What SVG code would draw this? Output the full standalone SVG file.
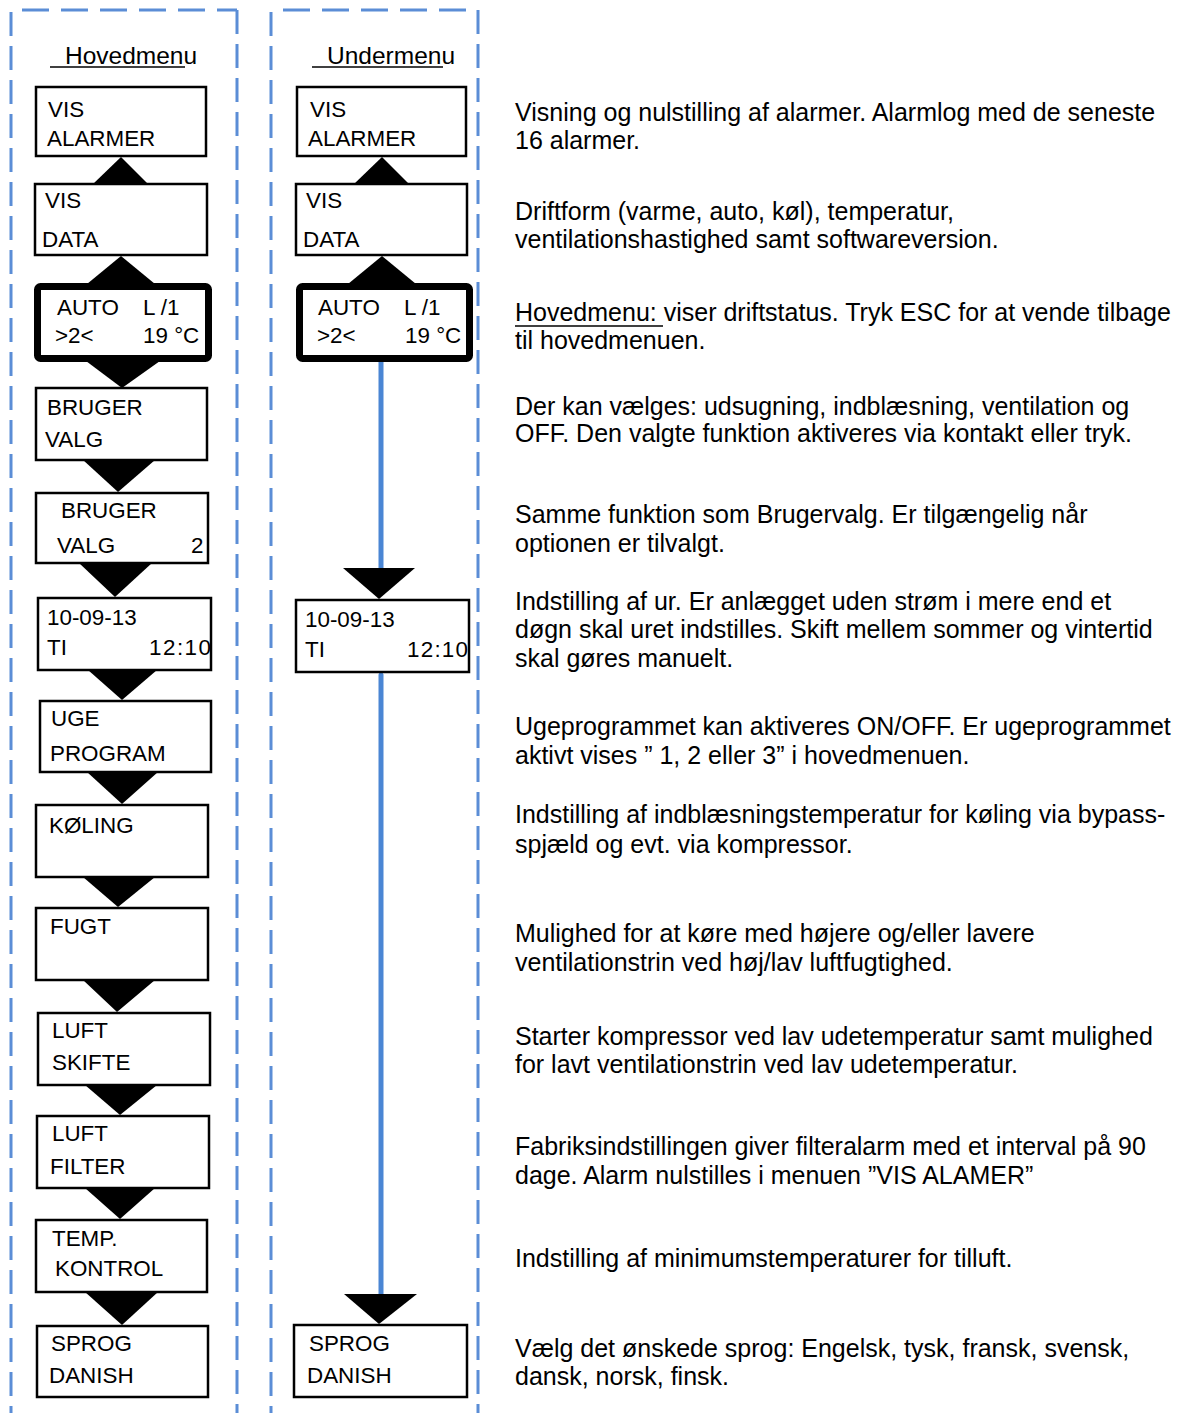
<svg xmlns="http://www.w3.org/2000/svg" width="1186" height="1413" viewBox="0 0 1186 1413">
<style>
.bg{fill:#ffffff}
.dash{fill:none;stroke:#5b8dd6;stroke-width:3}
.dv{stroke-dasharray:24 10}
.dh{stroke-dasharray:27 12}
.box{fill:#ffffff;stroke:#000000;stroke-width:2.5}
.tbox{fill:#ffffff;stroke:#000000;stroke-width:7;stroke-linejoin:round}
.tri{fill:#000000}
.flow{stroke:#4a86d4;stroke-width:5;stroke-linecap:round;fill:none}
.t{font-family:"Liberation Sans",Arial,sans-serif;font-size:22.4px;fill:#000000}
.h{font-family:"Liberation Sans",Arial,sans-serif;font-size:24.5px;fill:#000000}
.d{font-family:"Liberation Sans",Arial,sans-serif;font-size:25px;fill:#000000}
.ul{stroke:#000000;stroke-width:1.5}
</style>
<rect class="bg" x="0" y="0" width="1186" height="1413"/>

<g id="frames">
  <line class="dash dh" x1="22" y1="10" x2="237" y2="10"/>
  <line class="dash dv" x1="11" y1="12" x2="11" y2="1413"/>
  <line class="dash dv" x1="237" y1="10" x2="237" y2="1413"/>
  <line class="dash dh" x1="283" y1="10" x2="478" y2="10"/>
  <line class="dash dv" x1="271" y1="12" x2="271" y2="1413"/>
  <line class="dash dv" x1="478" y1="10" x2="478" y2="1413"/>
</g>

<g id="headers">
  <text class="h" x="65" y="64">Hovedmenu</text>
  <line class="ul" x1="50" y1="67" x2="185" y2="67"/>
  <text class="h" x="327" y="64">Undermenu</text>
  <line class="ul" x1="312" y1="67" x2="443" y2="67"/>
</g>

<g id="connectors">
  <polygon class="tri" points="93,184 148,184 121,157"/>
  <polygon class="tri" points="87,284 155,284 121,256"/>
  <polygon class="tri" points="86,361 160,361 122,388"/>
  <polygon class="tri" points="83,460 155,460 118,492"/>
  <polygon class="tri" points="79,563 152,563 115,597"/>
  <polygon class="tri" points="88,670 157,670 122,700"/>
  <polygon class="tri" points="87,772 158,772 122,804"/>
  <polygon class="tri" points="83,877 155,877 118,907"/>
  <polygon class="tri" points="83,980 155,980 117,1012"/>
  <polygon class="tri" points="85,1085 157,1085 120,1115"/>
  <polygon class="tri" points="85,1188 155,1188 120,1219"/>
  <polygon class="tri" points="85,1292 158,1292 122,1325"/>
  <polygon class="tri" points="354,184 409,184 382,157"/>
  <polygon class="tri" points="348,284 416,284 382,256"/>
  <line class="flow" x1="381" y1="358" x2="381" y2="569"/>
  <polygon class="tri" points="343,568 415,568 379,599"/>
  <line class="flow" x1="381" y1="675" x2="381" y2="1294"/>
  <polygon class="tri" points="344,1294 417,1294 379,1324"/>
</g>

<g id="l-vis-alarmer"><rect class="box" x="36" y="87" width="170" height="69"/><text class="t" x="48" y="117">VIS</text><text class="t" x="47" y="146">ALARMER</text></g>
<g id="l-vis-data"><rect class="box" x="35" y="184" width="172" height="71"/><text class="t" x="45" y="208">VIS</text><text class="t" x="42" y="247">DATA</text></g>
<g id="l-auto"><rect class="tbox" x="37.5" y="286.5" width="171" height="72" rx="3"/><text class="t" x="57" y="315">AUTO</text><text class="t" x="143" y="315">L /1</text><text class="t" x="55" y="343">&gt;2&lt;</text><text class="t" x="143" y="343">19 °C</text></g>
<g id="l-bruger-valg"><rect class="box" x="36" y="388" width="171" height="72"/><text class="t" x="47" y="415">BRUGER</text><text class="t" x="45" y="447">VALG</text></g>
<g id="l-bruger-valg-2"><rect class="box" x="36" y="493" width="172" height="70"/><text class="t" x="61" y="518">BRUGER</text><text class="t" x="57" y="553">VALG</text><text class="t" x="191" y="553">2</text></g>
<g id="l-dato"><rect class="box" x="38" y="598" width="173" height="72"/><text class="t" x="47" y="625">10-09-13</text><text class="t" x="47" y="655">TI</text><text class="t" x="149" y="655" textLength="62" lengthAdjust="spacing">12:10</text></g>
<g id="l-uge-program"><rect class="box" x="40" y="701" width="171" height="71"/><text class="t" x="51" y="726">UGE</text><text class="t" x="50" y="761">PROGRAM</text></g>
<g id="l-koling"><rect class="box" x="36" y="805" width="172" height="72"/><text class="t" x="49" y="833">KØLING</text></g>
<g id="l-fugt"><rect class="box" x="36" y="908" width="172" height="72"/><text class="t" x="50" y="934">FUGT</text></g>
<g id="l-luft-skifte"><rect class="box" x="38" y="1013" width="172" height="72"/><text class="t" x="52" y="1038">LUFT</text><text class="t" x="52" y="1070">SKIFTE</text></g>
<g id="l-luft-filter"><rect class="box" x="37" y="1116" width="172" height="72"/><text class="t" x="52" y="1141">LUFT</text><text class="t" x="50" y="1174">FILTER</text></g>
<g id="l-temp-kontrol"><rect class="box" x="36" y="1220" width="171" height="72"/><text class="t" x="52" y="1246">TEMP.</text><text class="t" x="55" y="1276">KONTROL</text></g>
<g id="l-sprog"><rect class="box" x="37" y="1326" width="171" height="71"/><text class="t" x="51" y="1351">SPROG</text><text class="t" x="49" y="1383">DANISH</text></g>

<g id="m-vis-alarmer"><rect class="box" x="297" y="87" width="169" height="69"/><text class="t" x="310" y="117">VIS</text><text class="t" x="308" y="146">ALARMER</text></g>
<g id="m-vis-data"><rect class="box" x="296" y="184" width="171" height="71"/><text class="t" x="306" y="208">VIS</text><text class="t" x="303" y="247">DATA</text></g>
<g id="m-auto"><rect class="tbox" x="299.5" y="286.5" width="170" height="72" rx="3"/><text class="t" x="318" y="315">AUTO</text><text class="t" x="404" y="315">L /1</text><text class="t" x="317" y="343">&gt;2&lt;</text><text class="t" x="405" y="343">19 °C</text></g>
<g id="m-dato"><rect class="box" x="296" y="600" width="173" height="72"/><text class="t" x="305" y="627">10-09-13</text><text class="t" x="305" y="657">TI</text><text class="t" x="407" y="657" textLength="61" lengthAdjust="spacing">12:10</text></g>
<g id="m-sprog"><rect class="box" x="294" y="1325" width="173" height="72"/><text class="t" x="309" y="1351">SPROG</text><text class="t" x="307" y="1383">DANISH</text></g>

<g id="descriptions">
  <text class="d" x="515" y="121">Visning og nulstilling af alarmer. Alarmlog med de seneste</text>
  <text class="d" x="515" y="149">16 alarmer.</text>
  <text class="d" x="515" y="220">Driftform (varme, auto, køl), temperatur,</text>
  <text class="d" x="515" y="248">ventilationshastighed samt softwareversion.</text>
  <text class="d" x="515" y="321">Hovedmenu: viser driftstatus. Tryk ESC for at vende tilbage</text>
  <line class="ul" x1="515" y1="326" x2="663" y2="326"/>
  <text class="d" x="515" y="349">til hovedmenuen.</text>
  <text class="d" x="515" y="415">Der kan vælges: udsugning, indblæsning, ventilation og</text>
  <text class="d" x="515" y="442">OFF. Den valgte funktion aktiveres via kontakt eller tryk.</text>
  <text class="d" x="515" y="523">Samme funktion som Brugervalg. Er tilgængelig når</text>
  <text class="d" x="515" y="552">optionen er tilvalgt.</text>
  <text class="d" x="515" y="610">Indstilling af ur. Er anlægget uden strøm i mere end et</text>
  <text class="d" x="515" y="638">døgn skal uret indstilles. Skift mellem sommer og vintertid</text>
  <text class="d" x="515" y="667">skal gøres manuelt.</text>
  <text class="d" x="515" y="735">Ugeprogrammet kan aktiveres ON/OFF. Er ugeprogrammet</text>
  <text class="d" x="515" y="764">aktivt vises ” 1, 2 eller 3” i hovedmenuen.</text>
  <text class="d" x="515" y="823">Indstilling af indblæsningstemperatur for køling via bypass-</text>
  <text class="d" x="515" y="853">spjæld og evt. via kompressor.</text>
  <text class="d" x="515" y="942">Mulighed for at køre med højere og/eller lavere</text>
  <text class="d" x="515" y="971">ventilationstrin ved høj/lav luftfugtighed.</text>
  <text class="d" x="515" y="1045">Starter kompressor ved lav udetemperatur samt mulighed</text>
  <text class="d" x="515" y="1073">for lavt ventilationstrin ved lav udetemperatur.</text>
  <text class="d" x="515" y="1155">Fabriksindstillingen giver filteralarm med et interval på 90</text>
  <text class="d" x="515" y="1184">dage. Alarm nulstilles i menuen ”VIS ALAMER”</text>
  <text class="d" x="515" y="1267">Indstilling af minimumstemperaturer for tilluft.</text>
  <text class="d" x="515" y="1357">Vælg det ønskede sprog: Engelsk, tysk, fransk, svensk,</text>
  <text class="d" x="515" y="1385">dansk, norsk, finsk.</text>
</g>
</svg>
